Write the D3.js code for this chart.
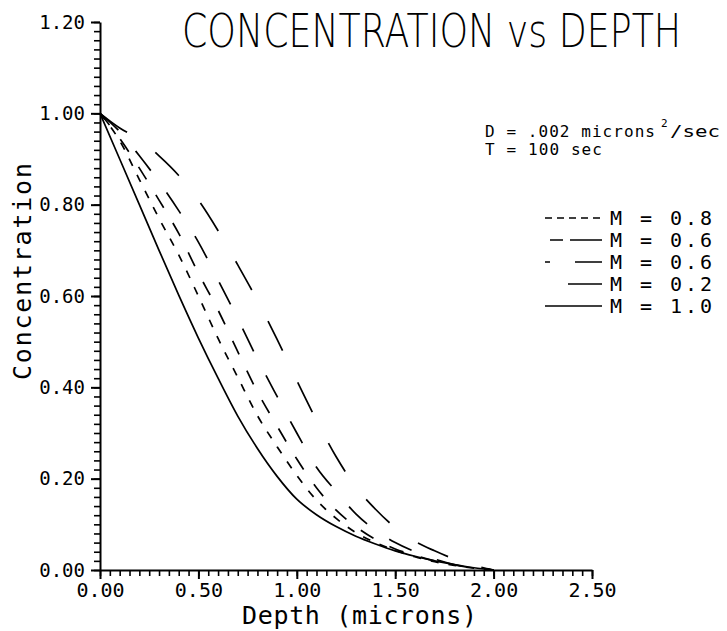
<!DOCTYPE html>
<html>
<head>
<meta charset="utf-8">
<script src="https://cdn.jsdelivr.net/npm/d3@7"></script>
<style>
  body { margin: 0; background: #fff; }
  text { fill: #000; }
</style>
</head>
<body>
<div id="chart"></div>
<script>
// depth values (microns) shared by every curve
const depth = [0, 0.1, 0.2, 0.3, 0.4, 0.5, 0.6, 0.7, 0.8, 0.9, 1.0,
  1.1, 1.2, 1.3, 1.4, 1.5, 1.6, 1.7, 1.8, 1.9, 2.0];

// concentration, one array per curve
const concM08 = [1.0, 0.94, 0.855, 0.77, 0.69, 0.60, 0.507, 0.422, 0.338, 0.27, 0.207,
  0.153, 0.113, 0.082, 0.06, 0.043, 0.029, 0.018, 0.01, 0.004, 0];
const concM06a = [1.0, 0.945, 0.88, 0.81, 0.737, 0.65, 0.569, 0.478, 0.39, 0.315, 0.243,
  0.18, 0.131, 0.095, 0.067, 0.046, 0.032, 0.02, 0.011, 0.004, 0];
const concM06b = [1.0, 0.96, 0.907, 0.85, 0.787, 0.718, 0.635, 0.55, 0.462, 0.38, 0.30,
  0.225, 0.172, 0.123, 0.087, 0.06, 0.04, 0.024, 0.012, 0.004, 0];
const concM02 = [1.0, 0.968, 0.943, 0.907, 0.864, 0.81, 0.743, 0.668, 0.59, 0.505, 0.415,
  0.328, 0.248, 0.182, 0.133, 0.093, 0.063, 0.042, 0.024, 0.01, 0];
const concM10 = [1.0, 0.9, 0.8, 0.7, 0.602, 0.508, 0.42, 0.337, 0.266, 0.205, 0.155,
  0.121, 0.095, 0.074, 0.057, 0.042, 0.03, 0.02, 0.012, 0.005, 0];

const legendLabels = ["M = 0.8", "M = 0.6", "M = 0.6", "M = 0.2", "M = 1.0"];
const xTicks = [0, 0.5, 1.0, 1.5, 2.0, 2.5];
const yTicks = [0, 0.2, 0.4, 0.6, 0.8, 1.0, 1.2];

const width = 727, height = 631;
const margin = { top: 22, right: 135, bottom: 61, left: 100 };

const svg = d3.select("#chart").append("svg")
  .attr("width", width)
  .attr("height", height);

const x = d3.scaleLinear().domain([0, 2.5]).range([margin.left, width - margin.right]);
const y = d3.scaleLinear().domain([0, 1.2]).range([height - margin.bottom, margin.top]);

const tickFont = "'DejaVu Sans Mono', 'Liberation Mono', monospace";

// minor ticks
svg.append("g")
  .attr("transform", `translate(${x(0)},0)`)
  .call(d3.axisLeft(y).tickValues(d3.range(0, 1.2001, 0.02)).tickSize(6).tickSizeOuter(0).tickFormat(""))
  .call(g => g.selectAll("line").attr("stroke-width", 1.6))
  .call(g => g.select(".domain").attr("stroke-width", 2));

svg.append("g")
  .attr("transform", `translate(0,${y(0)})`)
  .call(d3.axisBottom(x).tickValues(d3.range(0, 2.5001, 0.05)).tickSize(6).tickSizeOuter(0).tickFormat(""))
  .call(g => g.selectAll("line").attr("stroke-width", 1.6))
  .call(g => g.select(".domain").attr("stroke-width", 2));

// major ticks with labels
svg.append("g")
  .attr("transform", `translate(${x(0)},0)`)
  .call(d3.axisLeft(y).tickValues(yTicks).tickSize(9).tickPadding(6).tickSizeOuter(0).tickFormat(d3.format(".2f")))
  .call(g => g.select(".domain").remove())
  .call(g => g.selectAll("line").attr("stroke-width", 2))
  .call(g => g.selectAll("text").attr("font-family", tickFont).attr("font-size", 19).attr("fill", "#000"));

svg.append("g")
  .attr("transform", `translate(0,${y(0)})`)
  .call(d3.axisBottom(x).tickValues(xTicks).tickSize(9).tickPadding(4).tickSizeOuter(0).tickFormat(d3.format(".2f")))
  .call(g => g.select(".domain").remove())
  .call(g => g.selectAll("line").attr("stroke-width", 2))
  .call(g => g.selectAll("text").attr("font-family", tickFont).attr("font-size", 20).attr("fill", "#000"));

// axis titles
svg.append("text")
  .attr("x", 242).attr("y", 624)
  .attr("font-family", tickFont).attr("font-size", 25)
  .attr("textLength", 235).attr("lengthAdjust", "spacing")
  .text("Depth (microns)");

svg.append("text")
  .attr("transform", "translate(31,380) rotate(-90)")
  .attr("font-family", tickFont).attr("font-size", 25)
  .attr("textLength", 217).attr("lengthAdjust", "spacing")
  .text("Concentration");

// title: thin face squeezed horizontally
svg.append("text")
  .attr("transform", "translate(182,47) scale(0.79,1)")
  .attr("font-family", "'DejaVu Sans', sans-serif")
  .attr("font-weight", 200)
  .attr("font-size", 46)
  .text("CONCENTRATION vs DEPTH");

// parameters
const note = svg.append("g").attr("font-family", tickFont).attr("font-size", 16);
note.append("text").attr("x", 485).attr("y", 137)
  .attr("textLength", 170).attr("lengthAdjust", "spacing")
  .text("D = .002 microns");
note.append("text").attr("x", 661).attr("y", 127).attr("font-size", 11).text("2");
note.append("text").attr("x", 670).attr("y", 137)
  .attr("textLength", 50).attr("lengthAdjust", "spacingAndGlyphs")
  .text("/sec");
note.append("text").attr("x", 485).attr("y", 155)
  .attr("textLength", 117).attr("lengthAdjust", "spacing")
  .text("T = 100 sec");

// curves
const series = [
  { label: legendLabels[0], values: concM08, dash: "8,10", legendDash: "7,5" },
  { label: legendLabels[1], values: concM06a, dash: "15,18", legendDash: "13,7,32" },
  { label: legendLabels[2], values: concM06b, dash: "25,27", legendDash: "5,25,27" },
  { label: legendLabels[3], values: concM02, dash: "33,35", legendDash: null },
  { label: legendLabels[4], values: concM10, dash: null, legendDash: null }
];

const line = d3.line()
  .x((d, i) => x(depth[i]))
  .y(d => y(d))
  .curve(d3.curveMonotoneX);

svg.append("g")
  .selectAll("path")
  .data(series)
  .join("path")
  .attr("d", d => line(d.values))
  .attr("fill", "none")
  .attr("stroke", "#000")
  .attr("stroke-width", 1.7)
  .attr("stroke-dasharray", d => d.dash);

// legend
const legendStart = [545, 550, 545, 568, 545];
const legend = svg.append("g");
series.forEach((s, i) => {
  const yy = 218 + i * 22;
  legend.append("line")
    .attr("x1", legendStart[i]).attr("x2", 602)
    .attr("y1", yy).attr("y2", yy)
    .attr("stroke", "#000").attr("stroke-width", 1.7)
    .attr("stroke-dasharray", s.legendDash);
  legend.append("text")
    .attr("x", 610).attr("y", yy + 7)
    .attr("font-family", tickFont).attr("font-size", 20)
    .attr("textLength", 102).attr("lengthAdjust", "spacing")
    .text(s.label);
});
</script>
</body>
</html>
